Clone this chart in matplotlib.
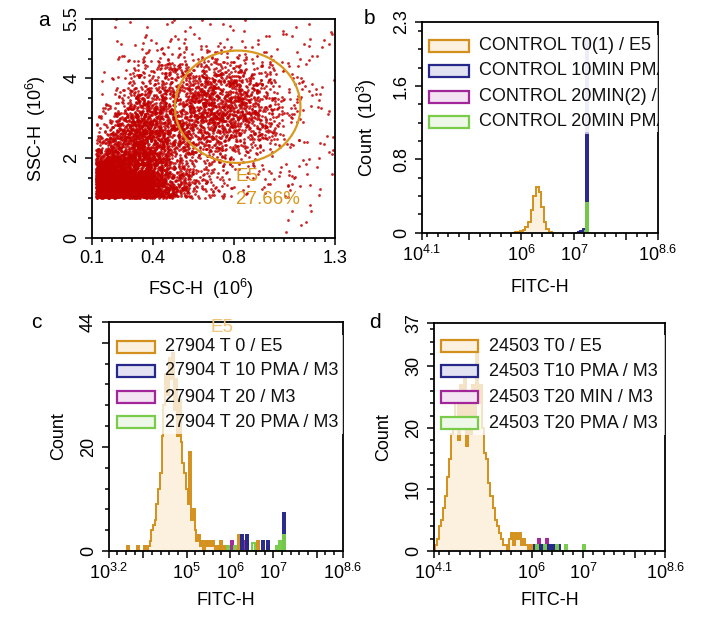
import numpy as np
import matplotlib
matplotlib.use('Agg')
import matplotlib.pyplot as plt
from matplotlib.patches import Ellipse, Rectangle

plt.rcParams['font.family'] = ['Liberation Sans', 'DejaVu Sans']
plt.rcParams['mathtext.default'] = 'regular'

# ---- panel a : FSC/SSC dot plot, number of dots read per cell ----
fsc_edges = [0.12, 0.2, 0.3, 0.4, 0.5, 0.6, 0.7, 0.8, 0.9, 1.0, 1.1, 1.2, 1.3]
ssc_edges = [0.0, 0.5, 1.0, 1.5, 2.0, 2.5, 3.0, 3.5, 4.0, 4.5, 5.0, 5.5]
dot_counts = [
    [0, 0, 0, 0, 0, 0, 0, 0, 0, 2, 2, 0],            # 0.0-0.5
    [0, 0, 0, 0, 0, 0, 0, 0, 0, 3, 2, 0],            # 0.5-1.0
    [440, 460, 420, 240, 70, 35, 18, 8, 6, 5, 4, 1],
    [340, 340, 260, 130, 50, 30, 18, 8, 6, 5, 3, 2],
    [60, 170, 210, 120, 60, 45, 45, 30, 18, 7, 4, 2],
    [18, 100, 190, 110, 80, 85, 90, 75, 45, 14, 6, 3],
    [7, 45, 120, 95, 90, 105, 105, 90, 55, 18, 8, 4],
    [2, 16, 55, 65, 75, 90, 85, 70, 40, 12, 6, 4],
    [1, 6, 16, 28, 40, 45, 40, 26, 15, 7, 4, 3],
    [1, 2, 6, 9, 15, 15, 10, 7, 5, 3, 3, 2],
    [0, 1, 1, 2, 3, 3, 2, 2, 2, 1, 2, 1],            # 5.0-5.5
]
ssc_threshold = 1.0
gate_center = (0.82, 3.29)
gate_size = (0.62, 2.82)
gate_name = 'E5'
gate_pct = '27.66%'

# ---- histograms: bin centres (log10 FITC-H) and counts ----
b_orange_x = [5.90, 5.95, 6.00, 6.05, 6.10, 6.15, 6.20, 6.25, 6.30, 6.35, 6.40, 6.45, 6.50, 6.55]
b_orange_y = [0.005, 0.01, 0.02, 0.03, 0.06, 0.12, 0.25, 0.40, 0.50, 0.44, 0.28, 0.12, 0.04, 0.01]
b_magenta_x = [7.25]
b_magenta_y = [2.1]
b_blue_x = [7.10, 7.15, 7.20, 7.25]
b_blue_y = [0.01, 0.02, 0.04, 1.07]
b_green_x = [7.25]
b_green_y = [0.32]

c_orange_x = [3.64, 3.88, 4.04, 4.12, 4.16, 4.20, 4.24, 4.28, 4.32, 4.36, 4.40, 4.44, 4.48,
              4.52, 4.56, 4.60, 4.64, 4.68, 4.72, 4.76, 4.80, 4.84, 4.88, 4.92, 4.96, 5.00,
              5.04, 5.08, 5.12, 5.16, 5.20, 5.24, 5.28, 5.32, 5.36, 5.44, 5.48, 5.52, 5.56,
              5.60, 5.64, 5.72, 5.80, 5.88, 6.20, 6.64]
c_orange_y = [1, 1, 1, 1, 2, 4, 5, 6, 9, 12, 15, 22, 28,
              34, 30, 37, 33, 38, 27, 33, 22, 29, 21, 17, 15, 12,
              9, 19, 6, 8, 4, 2, 3, 1, 2, 2, 1, 2, 1,
              2, 1, 1, 2, 1, 3, 2]
c_magenta_x = [6.04, 6.36, 6.40, 6.88]
c_magenta_y = [2, 2, 2, 1]
c_blue_x = [6.28, 6.40, 6.76, 6.88, 7.24]
c_blue_y = [3, 3, 2, 2, 7.3]
c_green_x = [5.96, 6.12, 6.52, 6.56, 7.08, 7.16, 7.24]
c_green_y = [1, 1, 1.5, 1.5, 1, 2, 3]

d_orange_x = [4.14, 4.18, 4.22, 4.26, 4.30, 4.34, 4.38, 4.42, 4.46, 4.50, 4.54, 4.58, 4.62,
              4.66, 4.70, 4.74, 4.78, 4.82, 4.86, 4.90, 4.94, 4.98, 5.02, 5.06, 5.10, 5.14,
              5.18, 5.22, 5.26, 5.30, 5.34, 5.38, 5.42, 5.46, 5.50, 5.58, 5.62, 5.66, 5.70,
              5.74, 5.78, 5.82, 5.86, 5.90, 5.98]
d_orange_y = [1, 2, 4, 5, 7, 9, 12, 15, 19, 20, 25, 18, 27,
              21, 28, 17, 24, 19, 27, 21, 32, 24, 27, 20, 16, 15,
              11, 9, 7, 5, 4, 3, 2, 1, 1, 2, 3, 1, 3,
              2, 3, 1, 2, 1, 1]
d_magenta_x = [6.14, 6.22, 6.30, 6.42]
d_magenta_y = [2, 1, 2, 1]
d_blue_x = [6.06, 6.14, 6.22, 6.30, 6.38, 6.46, 6.54]
d_blue_y = [1, 1, 1, 1, 1, 1, 1]
d_green_x = [6.10, 6.26, 6.50, 6.66, 7.00]
d_green_y = [1, 1, 1, 1, 1]

b_labels = ['CONTROL T0(1) / E5', 'CONTROL 10MIN PMA / M3',
            'CONTROL 20MIN(2) / M3', 'CONTROL 20MIN PMA / M3']
c_labels = ['27904 T 0 / E5', '27904 T 10 PMA / M3', '27904 T 20 / M3', '27904 T 20 PMA / M3']
d_labels = ['24503 T0 / E5', '24503 T10 PMA / M3', '24503 T20 MIN / M3', '24503 T20 PMA / M3']

line_cols = ['#d4901c', '#26278a', '#a3259a', '#78cc4a']
fill_cols = ['#fcf1df', '#e2e2f2', '#f2e2f2', '#eef8e8']
red = '#c20000'
gold = '#d9981e'
FS = 13


def dot_positions(n_cand=90000):
    # thin an even (Weyl) sequence over the panel so that each region
    # keeps about as many dots as were read for it
    xe = np.array(fsc_edges)
    ye = np.array(ssc_edges)
    cnt = np.array(dot_counts, dtype=float)
    dens = cnt / np.outer(np.diff(ye), np.diff(xe))
    k = np.arange(1, n_cand + 1, dtype=float)
    px = (0.5 + k * 0.7548776662466927) % 1
    py = (0.5 + k * 0.5698402909980532) % 1
    pt = (k * k * 0.4142135623730950) % 1
    area = (xe[-1] - xe[0]) * (ye[-1] - ye[0])
    x = xe[0] + px * (xe[-1] - xe[0])
    y = ye[0] + py * (ye[-1] - ye[0])
    xc = (xe[:-1] + xe[1:]) / 2
    yc = (ye[:-1] + ye[1:]) / 2
    up = yc > ssc_threshold
    fx = np.interp(x, xc, np.arange(len(xc)))
    fy = np.interp(y, yc[up], np.arange(up.sum()))
    i0 = np.floor(fx).astype(int)
    j0 = np.floor(fy).astype(int)
    i1 = np.minimum(i0 + 1, len(xc) - 1)
    j1 = np.minimum(j0 + 1, up.sum() - 1)
    wx = fx - i0
    wy = fy - j0
    du = dens[up]
    d_hi = ((1 - wx) * (1 - wy) * du[j0, i0] + wx * (1 - wy) * du[j0, i1]
            + (1 - wx) * wy * du[j1, i0] + wx * wy * du[j1, i1])
    col = np.clip(np.searchsorted(xe, x) - 1, 0, len(xc) - 1)
    row = np.clip(np.searchsorted(ye, y) - 1, 0, len(yc) - 1)
    d_lo = dens[row, col]
    d = np.where(y >= ssc_threshold, d_hi, d_lo)
    keep = pt < d * area / n_cand
    return x[keep], y[keep]


def draw_hist(ax, cx, cy, w, col, fc, z=1):
    cx = np.array(cx)
    cy = np.array(cy, dtype=float)
    n = int(round((cx.max() - cx.min()) / w)) + 1
    vals = np.zeros(n + 2)
    idx = np.round((cx - cx.min()) / w).astype(int) + 1
    vals[idx] = cy
    edges = 10 ** (cx.min() - 1.5 * w + w * np.arange(n + 3))
    ax.stairs(vals, edges, fill=True, color=fc, zorder=z)
    ax.stairs(vals, edges, color=col, lw=1.4, zorder=z + 0.5)


def draw_legend(ax, labels, rows, x0=0.03, x1=0.195, xt=0.24, h=0.052):
    ax.add_patch(Rectangle((0.012, rows[-1] - 0.05), 0.99, rows[0] - rows[-1] + 0.1,
                           transform=ax.transAxes, fc='white', ec='none', alpha=0.75, zorder=3))
    for lab, col, fc, y in zip(labels, line_cols, fill_cols, rows):
        ax.add_patch(Rectangle((x0, y - h / 2), x1 - x0, h, transform=ax.transAxes,
                               fc=fc, ec=col, lw=1.6, zorder=4))
        ax.text(xt, y, lab, transform=ax.transAxes, va='center', ha='left',
                fontsize=FS, color='#111111', clip_on=True, zorder=5)


def log_axis(ax, lo, hi, labelled, plain):
    ax.set_xscale('log')
    ax.set_xlim(10 ** lo, 10 ** hi)
    ticks = sorted(labelled + plain)
    labs = [r'$10^{%g}$' % t if t in labelled else '' for t in ticks]
    ax.set_xticks([10 ** t for t in ticks], labs)
    ax.set_xticks([10 ** t for t in np.arange(np.ceil(lo * 5) / 5, hi, 0.2)], minor=True)
    ax.xaxis.set_minor_formatter(matplotlib.ticker.NullFormatter())


def style(ax):
    for s in ax.spines.values():
        s.set_linewidth(1.3)
    ax.tick_params(which='both', direction='out', labelsize=FS, width=1.1)
    ax.tick_params(which='major', length=5)
    ax.tick_params(which='minor', length=3)
    ax.tick_params(axis='y', labelrotation=90)
    for t in ax.get_yticklabels():
        t.set_va('center')


fig = plt.figure(figsize=(7.02, 6.24), dpi=100)
axa = fig.add_axes([0.131, 0.619, 0.346, 0.351])
axb = fig.add_axes([0.601, 0.627, 0.336, 0.338])
axc = fig.add_axes([0.155, 0.117, 0.333, 0.367])
axd = fig.add_axes([0.618, 0.117, 0.330, 0.365])

# panel a
xs, ys = dot_positions()
axa.scatter(xs, ys, s=4, c=red, lw=0, alpha=0.85, zorder=1)
axa.add_patch(Ellipse(gate_center, gate_size[0], gate_size[1], fill=False, ec=gold, lw=1.6, zorder=3))
axa.text(0.81, 1.55, gate_name, color=gold, fontsize=FS + 0.5, va='center', zorder=4)
axa.text(0.81, 0.95, gate_pct, color=gold, fontsize=FS + 0.5, va='center', zorder=4)
axa.set_xlim(0.1, 1.3)
axa.set_ylim(0, 5.5)
axa.set_xticks([0.1, 0.4, 0.8, 1.3], ['0.1', '0.4', '0.8', '1.3'])
axa.set_xticks(np.arange(0.15, 1.3, 0.05), minor=True)
axa.set_yticks([0, 2, 4, 5.5], ['0', '2', '4', '5.5'])
axa.set_yticks(np.arange(0.5, 5.5, 0.5), minor=True)
axa.set_xlabel(r'FSC-H  ($10^6$)', fontsize=FS)
axa.set_ylabel(r'SSC-H  ($10^6$)', fontsize=FS)
axa.xaxis.set_label_coords(0.45, -0.18)
axa.yaxis.set_label_coords(-0.18, 0.5)

# panel b
draw_hist(axb, b_orange_x, b_orange_y, 0.05, line_cols[0], fill_cols[0])
draw_hist(axb, b_magenta_x, b_magenta_y, 0.05, '#b8b8e0', '#d8d8ec', z=1.2)
draw_hist(axb, b_blue_x, b_blue_y, 0.05, line_cols[1], '#9a9aae', z=1.4)
draw_hist(axb, b_green_x, b_green_y, 0.05, line_cols[3], '#c8dcb8', z=1.6)
log_axis(axb, 4.1, 8.6, [4.1, 6, 7, 8.6], [5, 8])
axb.set_ylim(0, 2.3)
axb.set_yticks([0, 0.8, 1.6, 2.3], ['0', '0.8', '1.6', '2.3'])
axb.set_yticks(np.arange(0.2, 2.3, 0.2), minor=True)
draw_legend(axb, b_labels, [0.886, 0.768, 0.645, 0.526], x0=0.03, x1=0.2, xt=0.243, h=0.056)
axb.set_xlabel('FITC-H', fontsize=FS)
axb.set_ylabel(r'Count  ($10^3$)', fontsize=FS)
axb.xaxis.set_label_coords(0.5, -0.22)
axb.yaxis.set_label_coords(-0.18, 0.5)

# panel c
draw_hist(axc, c_orange_x, c_orange_y, 0.04, line_cols[0], fill_cols[0])
draw_hist(axc, c_magenta_x, c_magenta_y, 0.04, line_cols[2], fill_cols[2], z=1.2)
draw_hist(axc, c_blue_x, c_blue_y, 0.04, line_cols[1], fill_cols[1], z=1.4)
draw_hist(axc, c_green_x, c_green_y, 0.04, line_cols[3], fill_cols[3], z=1.6)
log_axis(axc, 3.2, 8.6, [3.2, 5, 6, 7, 8.6], [4, 8])
axc.set_ylim(0, 44)
axc.set_yticks([0, 20, 40, 44], ['0', '20', '', '44'])
axc.set_yticks(np.arange(4, 44, 4), minor=True)
draw_legend(axc, c_labels, [0.891, 0.786, 0.672, 0.563], x0=0.034, x1=0.197, xt=0.24)
axc.text(0.485, 0.975, 'E5', transform=axc.transAxes, color='#f0c47a', fontsize=FS + 0.5,
         ha='center', va='center', zorder=6)
axc.set_xlabel('FITC-H', fontsize=FS)
axc.set_ylabel('Count', fontsize=FS)
axc.xaxis.set_label_coords(0.5, -0.18)
axc.yaxis.set_label_coords(-0.18, 0.5)

# panel d
draw_hist(axd, d_orange_x, d_orange_y, 0.04, line_cols[0], fill_cols[0])
draw_hist(axd, d_magenta_x, d_magenta_y, 0.04, line_cols[2], fill_cols[2], z=1.2)
draw_hist(axd, d_blue_x, d_blue_y, 0.04, line_cols[1], fill_cols[1], z=1.4)
draw_hist(axd, d_green_x, d_green_y, 0.04, line_cols[3], fill_cols[3], z=1.6)
log_axis(axd, 4.1, 8.6, [4.1, 6, 7, 8.6], [5, 8])
axd.set_ylim(0, 37)
axd.set_yticks([0, 10, 20, 30, 37], ['0', '10', '20', '30', '37'])
axd.set_yticks(np.arange(2, 37, 2), minor=True)
draw_legend(axd, d_labels, [0.899, 0.789, 0.675, 0.561], x0=0.03, x1=0.19, xt=0.237)
axd.set_xlabel('FITC-H', fontsize=FS)
axd.set_ylabel('Count', fontsize=FS)
axd.xaxis.set_label_coords(0.5, -0.18)
axd.yaxis.set_label_coords(-0.18, 0.5)

for ax in (axa, axb, axc, axd):
    style(ax)

for letter, x, y in [('a', 44, 20), ('b', 369, 18), ('c', 36, 322), ('d', 375, 322)]:
    fig.text(x / 702, 1 - y / 624, letter, fontsize=15, ha='center', va='center')

fig.savefig('out.png', dpi=100)
